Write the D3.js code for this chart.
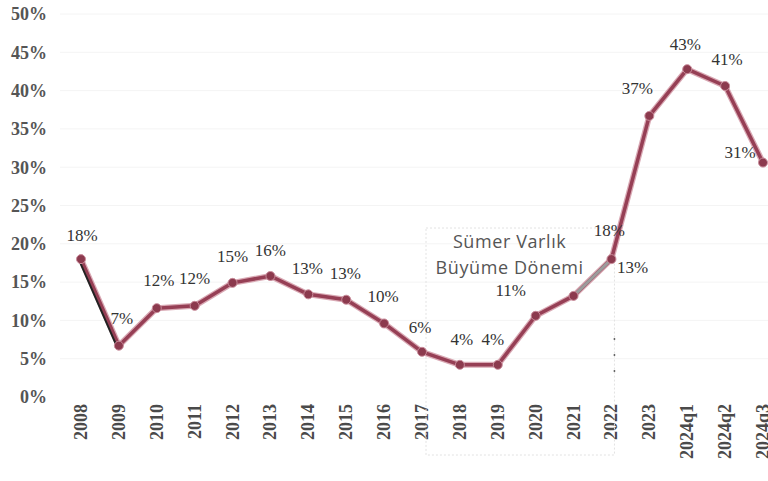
<!DOCTYPE html>
<html lang="tr">
<head>
<meta charset="utf-8">
<title>Sümer Varlık</title>
<script src="https://cdn.jsdelivr.net/npm/d3@7"></script>
<style>
  body { margin: 0; background: #fff; }
  svg { display: block; }
</style>
</head>
<body>
<div id="chart"></div>
<script>
// periods and values (percent)
const periods = ["2008", "2009", "2010", "2011", "2012", "2013", "2014", "2015", "2016", "2017",
                 "2018", "2019", "2020", "2021", "2022", "2023", "2024q1", "2024q2", "2024q3"];
const values = [18.0, 6.7, 11.6, 11.9, 14.9, 15.8, 13.4, 12.7, 9.6, 5.9,
                4.2, 4.2, 10.6, 13.2, 18.0, 36.7, 42.8, 40.6, 30.6];
const yTicks = [0, 5, 10, 15, 20, 25, 30, 35, 40, 45, 50];
const noteLines = ["Sümer Varlık", "Büyüme Dönemi"];

// label nudges (px) so the labels sit where the original has them
const labelDx = [1, 3, 2, 0, 0, 0, -1, -1, -1, -2, 2, -5, -25, 59, -2, -12, -2, 2, -23];
const labelDy = [-24, -28, -28, -28, -27, -26, -26, -27, -27, -25, -26, -26, -26, -29, -29, -28, -25, -27, -11];

const width = 768, height = 481;
const serif = "'Liberation Serif', 'DejaVu Serif', serif";

const svg = d3.select("#chart").append("svg")
    .attr("width", width)
    .attr("height", height);

const x = d3.scalePoint().domain(periods).range([81, 763]);
const y = d3.scaleLinear().domain([0, 50]).range([397, 14]);

// faint grid
svg.append("g").selectAll("line")
  .data(yTicks.slice(1))
  .enter().append("line")
    .attr("x1", 60).attr("x2", width)
    .attr("y1", d => y(d)).attr("y2", d => y(d))
    .style("stroke", "#f4f4f4")
    .style("stroke-width", 1);

// y labels
svg.append("g").selectAll("text")
  .data(yTicks)
  .enter().append("text")
    .attr("x", 47)
    .attr("y", d => y(d))
    .attr("dy", "0.35em")
    .attr("text-anchor", "end")
    .style("font-family", serif)
    .style("font-weight", "bold")
    .style("font-size", "18px")
    .style("fill", "#555")
    .text(d => d + "%");

// x labels, rotated
svg.append("g").selectAll("text")
  .data(periods)
  .enter().append("text")
    .attr("transform", d => `translate(${x(d) + 6},404) rotate(-90)`)
    .attr("text-anchor", "end")
    .style("font-family", serif)
    .style("font-weight", "bold")
    .style("font-size", "18px")
    .style("fill", "#4a4a4a")
    .text(d => d);

// annotation box
const b0 = x("2017") + 4, b1 = x("2022") + 3;
svg.append("rect")
    .attr("x", b0).attr("y", 228)
    .attr("width", b1 - b0).attr("height", 227)
    .style("fill", "none")
    .style("stroke", "#e2e2e2")
    .style("stroke-dasharray", "2,2");

svg.append("line")
    .attr("x1", b1).attr("x2", b1)
    .attr("y1", 338).attr("y2", 386)
    .style("stroke", "#666")
    .style("stroke-width", 1.5)
    .style("stroke-dasharray", "2,14");

svg.append("g").selectAll("text")
  .data(noteLines)
  .enter().append("text")
    .attr("x", (x("2019") + x("2021")) / 2 - 26)
    .attr("y", (d, i) => 248 + i * 26)
    .attr("text-anchor", "middle")
    .style("font-family", "'Open Sans', 'Liberation Sans', sans-serif")
    .style("font-size", "18px")
    .style("letter-spacing", "0.6px")
    .style("fill", "#555")
    .text(d => d);

const pts = periods.map((p, i) => ({ p, v: values[i], i }));

const line = d3.line()
    .x(d => x(d.p))
    .y(d => y(d.v));

// soft halo under the line
svg.append("path")
    .datum(pts)
    .attr("d", line)
    .style("fill", "none")
    .style("stroke", "#d9a9b4")
    .style("stroke-width", 6)
    .style("stroke-linejoin", "round");

svg.append("path")
    .datum(pts)
    .attr("d", line)
    .style("fill", "none")
    .style("stroke", "#963f55")
    .style("stroke-width", 3.5)
    .style("stroke-linejoin", "round");

// grey piece between 2021 and 2022
svg.append("path")
    .datum(pts.slice(13, 15))
    .attr("d", line)
    .style("fill", "none")
    .style("stroke", "#9c9c9c")
    .style("stroke-width", 3);

// dark shadow stroke on the first drop
svg.append("path")
    .datum(pts.slice(0, 2))
    .attr("d", d3.line().x(d => x(d.p) - 1.5).y(d => y(d.v) + 2))
    .style("fill", "none")
    .style("stroke", "#222")
    .style("stroke-width", 2);

svg.append("g").selectAll("circle")
  .data(pts)
  .enter().append("circle")
    .attr("cx", d => x(d.p))
    .attr("cy", d => y(d.v))
    .attr("r", 4.5)
    .style("fill", "#8c3a4e")
    .style("stroke", "#c98c9b")
    .style("stroke-width", 1);

// value labels
svg.append("g").selectAll("text")
  .data(pts)
  .enter().append("text")
    .attr("x", d => x(d.p) + labelDx[d.i])
    .attr("y", d => y(d.v) + labelDy[d.i])
    .attr("dy", "0.35em")
    .attr("text-anchor", "middle")
    .style("font-family", serif)
    .style("font-size", "17px")
    .style("fill", "#333")
    .text(d => Math.round(d.v) + "%");
</script>
</body>
</html>
